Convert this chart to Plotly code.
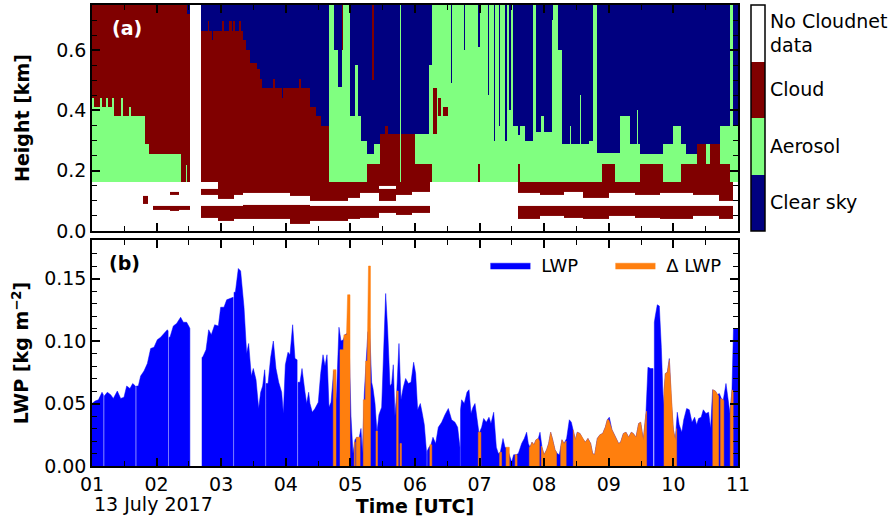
import plotly.graph_objects as go

# ---------------- DATA ----------------
# Target classification (panel a), time (h UTC) segment starts and layer stacks.
# Layer stack: class letter + top height (km), from bottom upward.
# S = clear sky, A = aerosol, C = cloud, W = no Cloudnet data
class_names = ["Clear sky", "Aerosol", "Cloud", "No Cloudnet<br>data"]
class_letters = ["S", "A", "C", "W"]
class_colors = ["#000080", "#80ff80", "#800000", "#ffffff"]

upper_base_km = 0.163
period_end_h = 11.0

upper_start = [1.000, 1.030, 1.130, 1.160, 1.220, 1.250, 1.310, 1.340, 1.455, 1.475,
               1.580, 1.600, 1.820, 1.887, 2.110, 2.120, 2.370, 2.390, 2.400, 2.460,
               2.470, 2.517, 2.687, 2.800, 2.815, 2.850, 2.870, 3.020, 3.040, 3.120,
               3.160, 3.190, 3.210, 3.280, 3.300, 3.345, 3.390, 3.450, 3.550, 3.600,
               3.630, 3.807, 3.830, 3.936, 3.960, 4.210, 4.230, 4.370, 4.470, 4.550,
               4.668, 4.740, 4.810, 4.876, 4.890, 4.990, 5.070, 5.120, 5.160, 5.250,
               5.330, 5.370, 5.460, 5.530, 5.580, 5.765, 5.780, 6.000, 6.210, 6.258,
               6.285, 6.335, 6.360, 6.410, 6.440, 6.510, 6.560, 6.580, 6.765, 6.780,
               6.980, 7.000, 7.130, 7.150, 7.220, 7.235, 7.300, 7.320, 7.400, 7.420,
               7.460, 7.480, 7.520, 7.600, 7.625, 7.700, 7.830, 7.870, 7.950, 8.000,
               8.115, 8.140, 8.220, 8.270, 8.400, 8.420, 8.550, 8.570, 8.700, 8.750,
               8.820, 8.890, 9.090, 9.170, 9.330, 9.440, 9.450, 9.490, 9.840, 10.000,
               10.110, 10.200, 10.360, 10.500, 10.560, 10.720, 10.880, 10.930]
upper_layers = [
    "A.44 C.75", "A.41 C.75", "A.44 C.75", "A.41 C.75", "A.44 C.75",
    "A.41 C.75", "A.44 C.75", "A.38 C.75", "A.44 C.75", "A.38 C.75",
    "A.41 C.75", "A.38 C.75", "A.29 C.75", "A.256 C.75", "A.29 C.75",
    "A.256 C.75", "C.75", "A.22 C.75", "C.75", "A.22 C.75",
    "C.72 S.75", "W.75", "C.664 S.75", "C.698 S.75", "C.664 S.75",
    "C.633 S.75", "C.664 S.75", "C.698 S.75", "C.664 S.75", "C.698 S.75",
    "C.664 S.75", "C.698 S.75", "C.664 S.75", "C.698 S.75", "C.664 S.75",
    "C.633 S.75", "C.60 S.75", "C.556 S.75", "C.539 S.75", "C.506 S.75",
    "C.476 S.75", "C.506 S.75", "C.476 S.75", "C.442 S.75", "C.476 S.75",
    "C.506 S.75", "C.476 S.75", "C.413 S.75", "C.38 S.75", "C.35 S.75",
    "A.75", "A.60 S.75", "A.478 S.75", "A.60 C.75", "A.75",
    "A.38 S.75", "A.55 S.75", "A.38 S.75", "A.30 S.75", "C.222 A.256 S.75",
    "C.222 A.256 S.50 C.75", "C.222 A.29 S.75", "C.322 S.75", "C.35 S.75", "C.322 S.75",
    "A.75", "C.322 S.75", "C.222 A.322 S.75", "C.222 A.55 S.75", "A.75",
    "A.322 C.476 A.75", "A.75", "A.38 C.442 A.75", "A.75", "A.38 C.413 A.75",
    "A.75", "A.49 S.75", "A.75", "A.60 S.75", "A.75",
    "C.222 A.61 S.75", "A.75", "A.45 S.75", "A.75", "A.30 S.75",
    "A.75", "A.35 S.75", "A.75", "A.30 S.75", "A.75",
    "A.40 S.75", "A.75", "A.35 S.75", "C.222 A.32 S.75", "A.35 S.75",
    "A.30 S.75", "A.75", "A.33 S.75", "A.38 S.75", "A.33 S.75",
    "A.70 S.75", "A.75", "A.60 S.75", "A.289 S.75", "A.35 S.75",
    "A.289 S.75", "A.45 S.75", "A.289 S.75", "A.30 S.75", "A.75",
    "A.26 S.75", "C.222 A.26 S.75", "A.26 S.75", "A.38 S.75", "A.289 S.75",
    "A.40 S.75", "A.289 S.75", "C.222 A.256 S.75", "A.289 S.75", "A.35 S.75",
    "C.222 A.289 S.75", "C.222 A.256 S.75", "C.289 S.75", "C.222 A.289 S.75", "C.289 S.75",
    "C.222 A.35 S.75", "A.75", "A.35 S.75"]

lower_start = [1.000, 1.795, 1.870, 1.950, 2.200, 2.350, 2.517, 2.687, 2.955, 3.200,
               3.340, 4.060, 4.370, 4.970, 5.150, 5.450, 5.700, 5.950, 6.230, 7.600,
               7.940, 8.300, 8.600, 9.000, 9.400, 9.800, 10.300, 10.700, 10.930]
lower_layers = [
    "W.163", "W.09 C.115 W.163", "W.163", "W.07 C.085 W.163",
    "W.068 C.085 W.12 C.13 W.163", "W.07 C.085 W.163", "W.163",
    "W.045 C.083 W.12 C.14 W.163", "W.035 C.083 W.105 C.163",
    "W.04 C.085 W.12 C.163", "W.04 C.087 W.128 C.163", "W.022 C.087 W.115 C.163",
    "W.035 C.083 W.10 C.163", "W.04 C.083 W.11 C.163", "W.045 C.083 W.125 C.163",
    "W.06 C.083 W.10 C.14 W.15 C.163", "W.055 C.083 W.12 C.163",
    "W.06 C.085 W.13 C.163", "W.163", "W.04 C.083 W.125 C.163",
    "W.05 C.083 W.12 C.163", "W.045 C.083 W.13 C.163", "W.04 C.083 W.11 C.163",
    "W.05 C.083 W.125 C.163", "W.045 C.083 W.12 C.163", "W.04 C.083 W.125 C.163",
    "W.05 C.083 W.12 C.163", "W.04 C.083 W.10 C.163", "W.163"]

# Liquid water path (panel b), kg m-2; None marks gaps in the record
lwp_time = [1.00, 1.05, 1.10, 1.155, 1.175, 1.183, 1.19, 1.237, 1.289, 1.33,
            1.392, 1.444, 1.495, 1.537, 1.588, 1.63, 1.672, 1.68, 1.688, 1.717,
            1.753, 1.805, 1.857, 1.908, 1.96, 2.011, 2.063, 2.114, 2.166, 2.178,
            2.185, 2.192, 2.207, 2.259, 2.31, 2.372, 2.414, 2.465, 2.507, 2.515,
            2.6, 2.703, 2.713, 2.765, 2.806, 2.847, 2.899, 2.956, 2.992, 3.043,
            3.085, 3.136, 3.185, 3.192, 3.199, 3.219, 3.265, 3.301, 3.353, 3.394,
            3.425, 3.466, 3.497, 3.539, 3.58, 3.611, 3.642, 3.673, 3.682, 3.688,
            3.695, 3.725, 3.766, 3.807, 3.848, 3.89, 3.936, 3.962, 3.993, 4.034,
            4.065, 4.106, 4.142, 4.175, 4.183, 4.19, 4.22, 4.251, 4.297, 4.323,
            4.354, 4.374, 4.41, 4.452, 4.503, 4.54, 4.576, 4.607, 4.638, 4.669,
            4.70, 4.741, 4.782, 4.823, 4.854, 4.89, 4.916, 4.947, 4.978, 5.009,
            5.04, 5.071, 5.102, 5.133, 5.164, 5.185, 5.215, 5.246, 5.27, 5.298,
            5.329, 5.35, 5.381, 5.411, 5.442, 5.484, 5.515, 5.546, 5.577, 5.613,
            5.639, 5.664, 5.69, 5.716, 5.752, 5.783, 5.819, 5.855, 5.897, 5.938,
            5.979, 6.01, 6.041, 6.082, 6.113, 6.144, 6.18, 6.185, 6.19, 6.216,
            6.247, 6.278, 6.32, 6.361, 6.413, 6.464, 6.516, 6.567, 6.619, 6.66,
            6.696, 6.70, 6.705, 6.722, 6.763, 6.805, 6.836, 6.867, 6.898, 6.929,
            6.96, 6.991, 7.032, 7.063, 7.104, 7.145, 7.176, 7.218, 7.259, 7.29,
            7.321, 7.362, 7.393, 7.424, 7.455, 7.496, 7.527, 7.568, 7.60, 7.651,
            7.692, 7.728, 7.754, 7.78, 7.811, 7.842, 7.873, 7.909, 7.935, 7.966,
            7.997, 8.038, 8.069, 8.10, 8.131, 8.167, 8.203, 8.234, 8.275, 8.306,
            8.347, 8.389, 8.42, 8.45, 8.482, 8.512, 8.554, 8.595, 8.636, 8.677,
            8.719, 8.75, 8.781, 8.822, 8.863, 8.905, 8.946, 8.977, 9.008, 9.049,
            9.08, 9.121, 9.152, 9.183, 9.225, 9.266, 9.307, 9.348, 9.379, 9.421,
            9.462, 9.493, 9.534, 9.575, 9.606, 9.648, 9.685, 9.695, 9.705, 9.72,
            9.751, 9.782, 9.813, 9.844, 9.875, 9.906, 9.937, 9.968, 9.999, 10.03,
            10.06, 10.09, 10.13, 10.16, 10.205, 10.246, 10.287, 10.329, 10.36, 10.39,
            10.43, 10.463, 10.504, 10.545, 10.576, 10.607, 10.649, 10.68, 10.711, 10.742,
            10.773, 10.814, 10.845, 10.876, 10.907, 10.93, 11.0]
lwp_value = [0.050, 0.052, 0.053, 0.059, 0.057, None, 0.056, 0.059, 0.057, 0.054,
             0.060, 0.054, 0.055, 0.064, 0.062, 0.066, 0.064, None, 0.064, 0.064,
             0.072, 0.076, 0.082, 0.094, 0.095, 0.101, 0.103, 0.106, 0.109, 0.108,
             None, 0.103, 0.103, 0.112, 0.114, 0.119, 0.115, 0.115, 0.111, 0.110,
             None, 0.087, 0.087, 0.093, 0.109, 0.105, 0.113, 0.112, 0.127, 0.127,
             0.133, 0.134, 0.135, None, 0.139, 0.139, 0.158, 0.156, 0.127, 0.090,
             0.098, 0.072, 0.078, 0.069, 0.046, 0.059, 0.064, 0.077, 0.070, None,
             0.066, 0.066, 0.087, 0.100, 0.078, 0.067, 0.059, 0.042, 0.081, 0.091,
             0.089, 0.113, 0.086, 0.085, None, 0.067, 0.067, 0.078, 0.059, 0.050,
             0.059, 0.050, 0.043, 0.046, 0.051, 0.074, 0.089, 0.080, 0.089, 0.047,
             0.051, 0.076, 0.053, 0.111, 0.100, 0.101, 0.105, 0.106, 0.104, 0.040,
             0.010, 0.021, 0.023, 0.022, 0.030, 0.010, 0.058, 0.090, 0.107, 0.110,
             0.067, 0.062, 0.050, 0.027, 0.041, 0.047, 0.091, 0.138, 0.109, 0.064,
             0.066, 0.081, 0.040, 0.058, 0.098, 0.053, 0.063, 0.070, 0.066, 0.067,
             0.083, 0.074, 0.045, 0.050, 0.042, 0.033, 0.010, None, 0.012, 0.015,
             0.017, 0.023, 0.018, 0.031, 0.035, 0.041, 0.046, 0.037, 0.035, 0.031,
             0.015, None, 0.045, 0.053, 0.050, 0.059, 0.061, 0.042, 0.047, 0.050,
             0.039, 0.026, 0.031, 0.038, 0.035, 0.039, 0.034, 0.043, 0.015, 0.010,
             0.011, 0.022, 0.015, 0.014, 0.010, 0.003, 0.009, 0.009, 0.010, 0.018,
             0.022, 0.027, 0.018, 0.015, 0.019, 0.017, 0.021, 0.022, 0.027, 0.015,
             0.009, 0.013, 0.018, 0.027, 0.021, 0.013, 0.010, 0.009, 0.021, 0.018,
             0.022, 0.037, 0.035, 0.029, 0.021, 0.027, 0.026, 0.022, 0.019, 0.022,
             0.018, 0.010, 0.009, 0.022, 0.025, 0.026, 0.031, 0.037, 0.039, 0.029,
             0.026, 0.022, 0.018, 0.019, 0.026, 0.027, 0.023, 0.027, 0.026, 0.023,
             0.034, 0.035, 0.021, 0.042, 0.079, 0.078, 0.078, None, 0.115, 0.120,
             0.129, 0.128, 0.095, 0.049, 0.074, 0.075, 0.086, 0.053, 0.029, 0.021,
             0.043, 0.033, 0.027, 0.037, 0.046, 0.045, 0.035, 0.039, 0.033, 0.038,
             0.039, 0.045, 0.042, 0.043, 0.030, 0.061, 0.060, 0.057, 0.058, 0.054,
             0.053, 0.066, 0.053, 0.042, 0.061, 0.110, 0.110]

# Delta LWP (panel b), kg m-2; None separates segments
dlwp_time = [4.735, 4.777, 4.78,
             4.839, 4.89, 4.90, 4.94, 4.957, 4.994, 4.998,
             5.06, 5.075, 5.08,
             5.09, 5.15, 5.155,
             5.20, 5.23, 5.236, 5.26, 5.28, 5.31, 5.315,
             5.396, 5.42, 5.425,
             5.716, 5.74, 5.745,
             5.77, 5.79, 5.795,
             6.23, 6.26, 6.265,
             6.98, 7.02, 7.025,
             7.31, 7.34, 7.345,
             7.41, 7.46, 7.465,
             7.55, 7.58, 7.585,
             7.77, 7.78, 7.811, 7.842, 7.873, 7.909, 7.925, 7.93,
             7.955, 7.966, 7.997, 8.038, 8.069, 8.10, 8.131, 8.167, 8.19, 8.195,
             8.255, 8.275, 8.306, 8.34, 8.345,
             8.45, 8.482, 8.512, 8.554, 8.595, 8.636, 8.677, 8.719, 8.75, 8.781,
             8.822, 8.863, 8.905, 8.946, 8.977, 9.0, 9.049, 9.08, 9.121, 9.152,
             9.183, 9.225, 9.266, 9.307, 9.348, 9.379, 9.421, 9.462, 9.493, 9.534,
             9.575, 9.585, 9.59,
             9.855, 9.875, 9.906, 9.937, 9.968, 9.999, 10.03, 10.05, 10.055,
             10.61, 10.649, 10.68, 10.70, 10.705,
             10.73, 10.773, 10.78, 10.785,
             10.88, 10.907, 10.925]
dlwp_value = [0.077, 0.077, None,
              0.093, 0.093, 0.105, 0.105, 0.137, 0.137, None,
              0.019, 0.019, None,
              0.023, 0.023, None,
              0.053, 0.053, 0.084, 0.084, 0.160, 0.160, None,
              0.028, 0.028, None,
              0.060, 0.060, None,
              0.018, 0.018, None,
              0.017, 0.017, None,
              0.027, 0.027, None,
              0.011, 0.011, None,
              0.015, 0.015, None,
              0.009, 0.009, None,
              0.015, 0.015, 0.019, 0.017, 0.021, 0.022, 0.020, None,
              0.016, 0.015, 0.009, 0.013, 0.018, 0.027, 0.021, 0.013, 0.011, None,
              0.015, 0.021, 0.018, 0.020, None,
              0.029, 0.021, 0.027, 0.026, 0.022, 0.019, 0.022, 0.018, 0.010, 0.009,
              0.022, 0.025, 0.026, 0.031, 0.037, 0.037, 0.029, 0.026, 0.022, 0.018,
              0.019, 0.026, 0.027, 0.023, 0.027, 0.026, 0.023, 0.034, 0.035, 0.021,
              0.042, 0.044, None,
              0.060, 0.074, 0.075, 0.085, 0.053, 0.029, 0.021, 0.030, None,
              0.061, 0.060, 0.057, 0.056, None,
              0.054, 0.053, 0.052, None,
              0.042, 0.061, 0.060]

hour_ticks = [1, 2, 3, 4, 5, 6, 7, 8, 9, 10, 11]
hour_labels = ["01", "02", "03", "04", "05", "06", "07", "08", "09", "10", "11"]
height_ticks = [0.0, 0.2, 0.4, 0.6]
height_labels = ["0.0", "0.2", "0.4", "0.6"]
lwp_ticks = [0.0, 0.05, 0.10, 0.15]
lwp_labels = ["0.00", "0.05", "0.10", "0.15"]
date_label = "13 July 2017"

# ---------------- BUILD ----------------
code_of = {l: i for i, l in enumerate(class_letters)}


def build_grid(starts, layers, end, base):
    x_edges = list(starts) + [end]
    parsed = []
    for lay in layers:
        parsed.append([(code_of[s[0]], float(s[1:])) for s in lay.split()])
    tops = sorted(set(h for p in parsed for _, h in p))
    y_edges = [base] + tops
    z = []
    for i in range(len(tops)):
        mid = 0.5 * (y_edges[i] + y_edges[i + 1])
        row = []
        for p in parsed:
            val = p[-1][0]
            for code, top in p:
                if mid < top:
                    val = code
                    break
            row.append(val)
        z.append(row)
    return x_edges, y_edges, z


def to_polygons(times, values):
    """Close each gap-free run of the series down to zero so 'toself' fills it."""
    px, py = [], []
    seg = []

    def flush():
        if seg:
            px.extend([seg[0][0]] + [s[0] for s in seg] + [seg[-1][0], None])
            py.extend([0.0] + [s[1] for s in seg] + [0.0, None])

    for t, v in zip(times, values):
        if v is None:
            flush()
            seg = []
        else:
            seg.append((t, v))
    flush()
    return px, py


ux, uy, uz = build_grid(upper_start, upper_layers, period_end_h, upper_base_km)
lx, ly, lz = build_grid(lower_start, lower_layers, period_end_h, 0.0)
lwp_px, lwp_py = to_polygons(lwp_time, lwp_value)
dl_px, dl_py = to_polygons(dlwp_time, dlwp_value)

FONT = "DejaVu Sans"
fig = go.Figure()
fig.add_trace(go.Heatmap(x=lx, y=ly, z=lz, coloraxis="coloraxis", xaxis="x", yaxis="y",
                         hoverinfo="skip", showlegend=False))
fig.add_trace(go.Heatmap(x=ux, y=uy, z=uz, coloraxis="coloraxis", xaxis="x", yaxis="y",
                         hoverinfo="skip", showlegend=False))
fig.add_trace(go.Scatter(x=lwp_px, y=lwp_py, mode="lines", fill="toself",
                         fillcolor="#0000ff", line=dict(color="#0000ff", width=0.5),
                         name=" LWP", xaxis="x2", yaxis="y2"))
fig.add_trace(go.Scatter(x=dl_px, y=dl_py, mode="lines", fill="toself",
                         fillcolor="#ff7f0e", line=dict(color="#ff7f0e", width=0.5),
                         name=" \u0394 LWP", xaxis="x2", yaxis="y2"))

n = len(class_names)
cscale = []
for i, c in enumerate(class_colors):
    cscale.append([i / n, c])
    cscale.append([(i + 1) / n, c])

axis_common = dict(ticks="inside", ticklen=8, tickwidth=1.5, tickcolor="black",
                   showline=True, linewidth=1.5, linecolor="black", mirror="ticks",
                   showgrid=False, zeroline=False,
                   tickfont=dict(family=FONT, size=19, color="black"))

top_bottom = (466 - 231) / 461
bot_top = (466 - 240) / 461

fig.update_layout(
    width=896, height=520,
    margin=dict(l=92, r=158, t=5, b=54, autoexpand=False),
    paper_bgcolor="white", plot_bgcolor="white",
    font=dict(family=FONT, size=19, color="black"),
    coloraxis=dict(
        cmin=-0.5, cmax=3.5, colorscale=cscale,
        colorbar=dict(
            x=(751 - 92) / 646, xanchor="left", xpad=0, ypad=0,
            y=1, yanchor="top", len=1 - top_bottom, lenmode="fraction",
            thickness=14, thicknessmode="pixels",
            outlinewidth=1.5, outlinecolor="black",
            tickvals=[0, 1, 2, 3], ticktext=class_names, ticks="",
            tickfont=dict(family=FONT, size=19, color="black"))),
    xaxis=dict(domain=[0, 1], anchor="y", range=[1, 11], tickvals=hour_ticks,
               showticklabels=False,
               minor=dict(ticks="inside", ticklen=5, tickwidth=1.2, tickcolor="black",
                          dtick=0.5, tick0=1, showgrid=False),
               **axis_common),
    yaxis=dict(domain=[top_bottom, 1], anchor="x", range=[0, 0.75],
               tickvals=height_ticks, ticktext=height_labels,
               minor=dict(ticks="inside", ticklen=5, tickwidth=1.2, tickcolor="black",
                          dtick=0.05, tick0=0, showgrid=False),
               title=dict(text="<b>Height [km]</b>", standoff=22,
                          font=dict(family=FONT, size=19)),
               **axis_common),
    xaxis2=dict(domain=[0, 1], anchor="y2", range=[1, 11], tickvals=hour_ticks,
                ticktext=hour_labels,
                minor=dict(ticks="inside", ticklen=5, tickwidth=1.2, tickcolor="black",
                           dtick=0.5, tick0=1, showgrid=False),
                title=dict(text="<b>Time [UTC]</b>", standoff=4,
                           font=dict(family=FONT, size=19)),
                **axis_common),
    yaxis2=dict(domain=[0, bot_top], anchor="x2", range=[0, 0.1808],
                tickvals=lwp_ticks, ticktext=lwp_labels,
                minor=dict(ticks="inside", ticklen=5, tickwidth=1.2, tickcolor="black",
                           dtick=0.01, tick0=0, showgrid=False),
                title=dict(text="<b>LWP [kg m<sup>\u22122</sup>]</b>", standoff=10,
                           font=dict(family=FONT, size=19)),
                **axis_common),
    legend=dict(orientation="h", x=0.609, y=0.475, xanchor="left", yanchor="top",
                bgcolor="rgba(0,0,0,0)", font=dict(family=FONT, size=18),
                itemwidth=40, entrywidth=70, entrywidthmode="pixels",
                traceorder="normal"),
    annotations=[
        dict(text="<b>(a)</b>", xref="paper", yref="paper", x=(110 - 92) / 646, y=(466 - 28) / 461,
             xanchor="left", yanchor="middle", showarrow=False,
             font=dict(family=FONT, size=19, color="white")),
        dict(text="<b>(b)</b>", xref="paper", yref="paper", x=(107 - 92) / 646, y=(466 - 263) / 461,
             xanchor="left", yanchor="middle", showarrow=False,
             font=dict(family=FONT, size=19, color="black")),
        dict(text=date_label, xref="paper", yref="paper", x=0, y=(466 - 504) / 461,
             xanchor="left", yanchor="middle", showarrow=False,
             font=dict(family=FONT, size=19, color="black")),
    ],
)

assert len(lwp_time) == len(lwp_value)
assert len(dlwp_time) == len(dlwp_value)
assert len(upper_start) == len(upper_layers)
assert len(lower_start) == len(lower_layers)

fig.write_html("out.html", config={"displayModeBar": False},
               post_script="document.body.style.margin='0px';")
